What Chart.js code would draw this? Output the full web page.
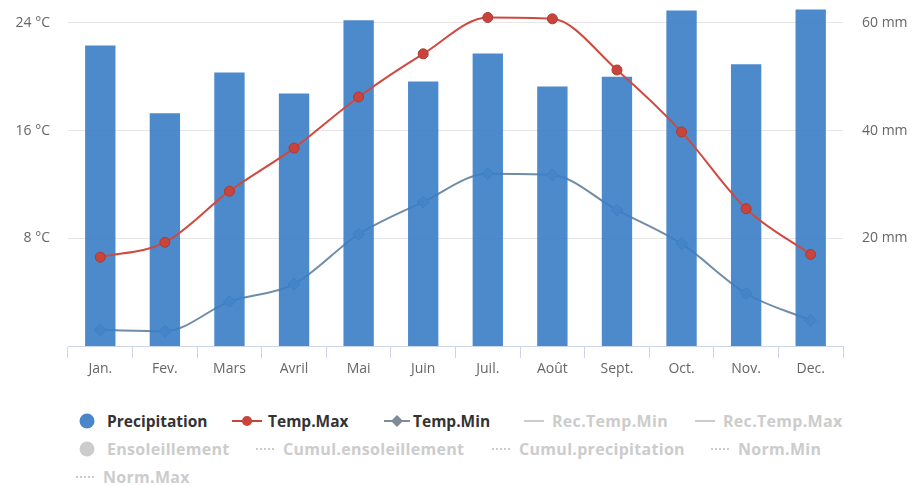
<!DOCTYPE html>
<html>
<head>
<meta charset="utf-8">
<script src="https://cdn.jsdelivr.net/npm/chart.js@4/dist/chart.umd.min.js"></script>
<style>
  html, body { margin: 0; padding: 0; background: #fff; }
  body { width: 918px; height: 486px; position: relative; overflow: hidden; font-family: "Open Sans", sans-serif; }
  #wrap { position: absolute; left: 0; top: 0; width: 918px; height: 380px; }
  .lg { position: absolute; font-weight: bold; line-height: 20px; white-space: nowrap; }
  .lg.on { color: #333; font-size: 15.5px; }
  .lg.off { color: #cccccc; font-size: 16px; letter-spacing: 0.3px; }
  .lg svg { position: absolute; top: 0; }
</style>
</head>
<body>
<div id="wrap"><canvas id="climate" width="918" height="380"></canvas></div>
<div id="legend"></div>
<script>
// monthly climate values
const months = ['Jan.', 'Fev.', 'Mars', 'Avril', 'Mai', 'Juin', 'Juil.', 'Août', 'Sept.', 'Oct.', 'Nov.', 'Dec.'];
const precipitation = [55.8, 43.2, 50.8, 46.9, 60.5, 49.1, 54.3, 48.2, 50.0, 62.3, 52.3, 62.5];
const tempMax = [6.6, 7.7, 11.5, 14.7, 18.5, 21.7, 24.4, 24.3, 20.5, 15.9, 10.2, 6.8];
const tempMin = [1.2, 1.1, 3.3, 4.6, 8.3, 10.7, 12.8, 12.7, 10.1, 7.6, 3.9, 1.9];
const tempTicks = [8, 16, 24];
const rainTicks = [20, 40, 60];

const TEMP_TOP = 25.7;
const tickFont = { family: '"Open Sans", sans-serif', size: 14 };

const chart = new Chart(document.getElementById('climate'), {
  type: 'bar',
  data: {
    labels: months,
    datasets: [
      {
        type: 'line', label: 'Temp.Max', data: tempMax, yAxisID: 'y', order: 0,
        borderColor: '#d0493f', borderWidth: 2, cubicInterpolationMode: 'monotone',
        pointRadius: 5, pointBackgroundColor: '#c9453c', pointBorderColor: '#a83a33', pointBorderWidth: 1,
      },
      {
        type: 'bar', label: 'Precipitation', data: precipitation, yAxisID: 'y1', order: 1,
        backgroundColor: 'rgba(58,125,198,0.9)', barPercentage: 0.47, categoryPercentage: 1,
      },
      {
        type: 'line', label: 'Temp.Min', data: tempMin, yAxisID: 'y', order: 2,
        borderColor: '#6f8ca8', borderWidth: 2, cubicInterpolationMode: 'monotone',
        pointStyle: 'rectRot', pointRadius: 6, pointBackgroundColor: '#a9bccd', pointBorderColor: '#6f8ca8', pointBorderWidth: 1,
      },
    ],
  },
  options: {
    responsive: false,
    animation: false,
    devicePixelRatio: 1,
    layout: { padding: 0, autoPadding: false },
    plugins: { legend: { display: false }, tooltip: { enabled: false } },
    scales: {
      x: {
        offset: true,
        grid: { offset: true, drawOnChartArea: false, drawTicks: true, tickLength: 12, color: '#ccd6eb' },
        border: { color: '#ccd6eb' },
        ticks: { color: '#666', font: tickFont, padding: 3 },
        afterFit: s => { s.height = 34; },
      },
      y: {
        position: 'left', min: 0, max: TEMP_TOP,
        afterBuildTicks: s => { s.ticks = tempTicks.map(v => ({ value: v })); },
        grid: { color: '#e6e6e6', drawTicks: false },
        border: { display: false },
        ticks: { color: '#666', font: tickFont, padding: 18, callback: v => v + ' °C' },
        afterFit: s => { s.width = 68; s.paddingTop = 0; s.paddingBottom = 0; },
      },
      y1: {
        position: 'right', min: 0, max: TEMP_TOP * 2.5,
        afterBuildTicks: s => { s.ticks = rainTicks.map(v => ({ value: v })); },
        grid: { drawOnChartArea: false, drawTicks: false },
        border: { display: false },
        ticks: { color: '#666', font: tickFont, padding: 19, callback: v => v + ' mm' },
        afterFit: s => { s.width = 75; s.paddingTop = 0; s.paddingBottom = 0; },
      },
    },
  },
});

// html legend, greyed items are series that start hidden
const legendItems = [
  { text: 'Precipitation', on: true, sym: 'dot', color: '#4a86c8', x: 78, y: 411 },
  { text: 'Temp.Max', on: true, sym: 'lineDot', color: '#c9453c', x: 232, y: 411 },
  { text: 'Temp.Min', on: true, sym: 'lineDiamond', color: '#7f8c96', x: 384, y: 411 },
  { text: 'Rec.Temp.Min', on: false, sym: 'line', color: '#cccccc', x: 524, y: 411 },
  { text: 'Rec.Temp.Max', on: false, sym: 'line', color: '#cccccc', x: 695, y: 411 },
  { text: 'Ensoleillement', on: false, sym: 'dot', color: '#cccccc', x: 78, y: 439 },
  { text: 'Cumul.ensoleillement', on: false, sym: 'dots', color: '#cccccc', x: 256, y: 439 },
  { text: 'Cumul.precipitation', on: false, sym: 'dots', color: '#cccccc', x: 492, y: 439 },
  { text: 'Norm.Min', on: false, sym: 'dots', color: '#cccccc', x: 711, y: 439 },
  { text: 'Norm.Max', on: false, sym: 'dots', color: '#cccccc', x: 76, y: 467 },
];

function symbolSvg(it) {
  const c = it.color;
  if (it.sym === 'dot') {
    return { w: 29, svg: `<svg width="20" height="20"><circle cx="9" cy="10" r="7.5" fill="${c}"/></svg>` };
  }
  if (it.sym === 'lineDot') {
    return { w: 36, svg: `<svg width="32" height="20"><line x1="0" y1="10" x2="30" y2="10" stroke="${c}" stroke-width="2"/><circle cx="15" cy="10" r="5" fill="${c}"/></svg>` };
  }
  if (it.sym === 'lineDiamond') {
    return { w: 29, svg: `<svg width="28" height="20"><line x1="0" y1="10" x2="26" y2="10" stroke="${c}" stroke-width="2"/><path d="M13 4 L19 10 L13 16 L7 10 Z" fill="${c}"/></svg>` };
  }
  if (it.sym === 'line') {
    return { w: 28, svg: `<svg width="24" height="20"><line x1="0" y1="10" x2="20" y2="10" stroke="${c}" stroke-width="2"/></svg>` };
  }
  return { w: 27, svg: `<svg width="22" height="20"><line x1="0" y1="10" x2="18" y2="10" stroke="${c}" stroke-width="2" stroke-dasharray="2,2"/></svg>` };
}

const legendEl = document.getElementById('legend');
legendItems.forEach(it => {
  const s = symbolSvg(it);
  const div = document.createElement('div');
  div.className = 'lg ' + (it.on ? 'on' : 'off');
  div.style.left = it.x + 'px';
  div.style.top = it.y + 'px';
  div.style.paddingLeft = s.w + 'px';
  div.innerHTML = s.svg.replace('<svg', '<svg style="left:0"') + it.text;
  legendEl.appendChild(div);
});
</script>
</body>
</html>
